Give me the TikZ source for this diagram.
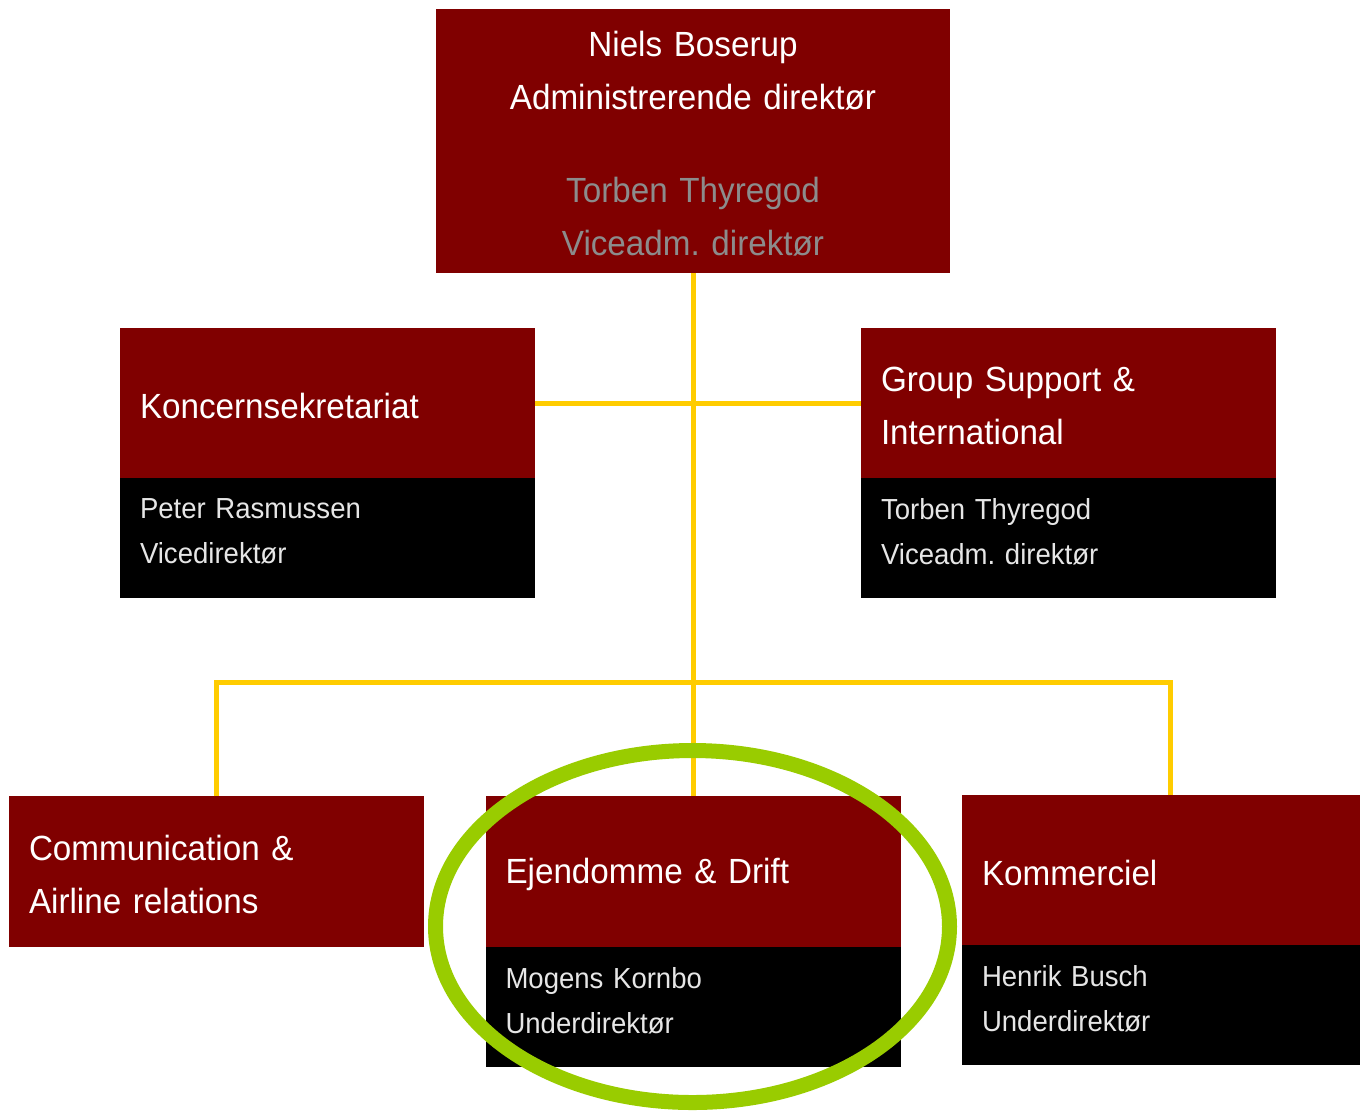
\documentclass[tikz,border=0pt]{standalone}
\usepackage{fontspec}
\setmainfont[FakeStretch=0.95]{Liberation Sans}
\usetikzlibrary{positioning,shapes.geometric}
\definecolor{cphred}{HTML}{800000}
\definecolor{cphyellow}{HTML}{FFCC00}
\definecolor{cphgreen}{HTML}{99CC00}
\definecolor{cphgray}{HTML}{8C8C8C}
\definecolor{cphlight}{HTML}{E6E6E6}
\frenchspacing

\begin{document}
\begin{tikzpicture}[
      every node/.style={inner sep=0pt, outer sep=0pt},
      unit/.style={
        fill=cphred, text=white, anchor=north west,
        minimum width=8.3cm, minimum height=3cm, text width=7.5cm,
        text height=0.62cm,
        align=left, font=\fontsize{19.9}{30.2}\selectfont
      },
      person/.style={
        fill=black, text=cphlight, below=0pt of #1,
        minimum width=8.3cm, minimum height=2.4cm, text width=7.5cm,
        text depth=1.18cm,
        align=left, font=\fontsize{16.5}{25.6}\selectfont
      },
      boss/.style={
        unit, minimum width=10.28cm, minimum height=5.28cm,
        text width=10cm, align=center
      },
      link/.style={draw=cphyellow, line width=0.1cm},
      ring/.style={
        draw=cphgreen, line width=0.3cm, ellipse,
        minimum width=10.28cm, minimum height=7.04cm
      }
      ]
      \useasboundingbox (0,0) rectangle (27.22,-22.24);

      \node[boss] (ceo) at (8.72,-0.18)
        {Niels Boserup\\Administrerende direktør\\[22.7pt]
         \textcolor{cphgray}{Torben Thyregod}\\
         \textcolor{cphgray}{Viceadm. direktør}};

      \node[unit] (sek) at (2.40,-6.56) {Koncernsekretariat};
      \node[person=sek] (sekname) {Peter Rasmussen\\Vicedirektør};

      \node[unit] (gsi) at (17.22,-6.56) {Group Support \&\\International};
      \node[person=gsi] (gsiname) {Torben Thyregod\\Viceadm. direktør};

      \node[unit, minimum height=3.02cm] (com) at (0.18,-15.92)
        {Communication \&\\Airline relations};

      \node[unit, minimum height=3.02cm] (ejd) at (9.71,-15.92) {Ejendomme \& Drift};
      \node[person=ejd] (ejdname) {Mogens Kornbo\\Underdirektør};

      \node[unit, minimum width=7.96cm, text width=7.16cm] (kom) at (19.24,-15.90) {Kommerciel};
      \node[person=kom, minimum width=7.96cm, text width=7.16cm] (komname)
        {Henrik Busch\\Underdirektør};

  % Connect the boxes
  \coordinate (hub) at (ceo.south |- 0,-13.64);
  \coordinate (komjoin) at ([xshift=0.18cm]kom.north);
  \draw[link] (ceo.south) -- (ceo.south |- ejd.north);
  \draw[link] (sek.east) -- (gsi.west);
  \draw[link] (com.north) |- (hub) -| (komjoin);

  % highlight
  \node[ring] (mark) at (13.85,-18.53) {};

\end{tikzpicture}
\end{document}
